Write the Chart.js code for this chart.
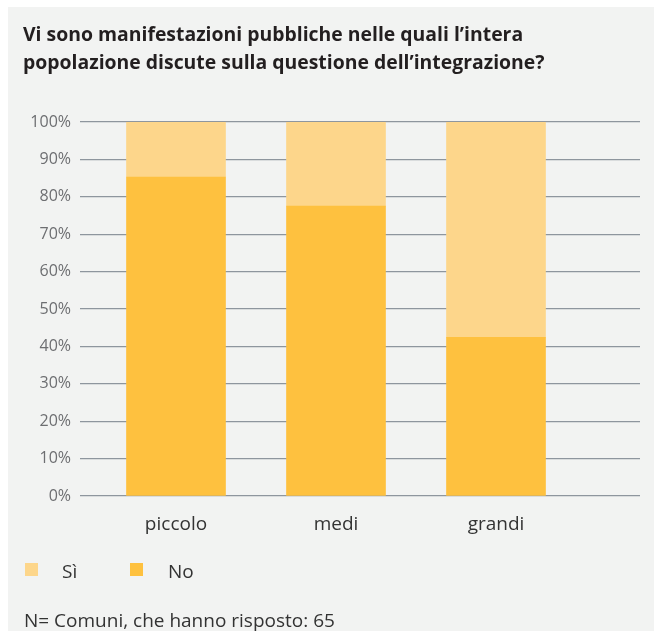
<!DOCTYPE html>
<html lang="it">
<head>
<meta charset="utf-8">
<title>Manifestazioni pubbliche sull'integrazione</title>
<script src="https://cdn.jsdelivr.net/npm/chart.js@4/dist/chart.umd.min.js"></script>
<style>
  html, body { margin: 0; padding: 0; background: #fff; }
  body { width: 654px; height: 631px; position: relative; overflow: hidden; font-family: "Open Sans", "Noto Sans", sans-serif; }
  #panel { position: absolute; left: 8px; top: 7px; right: 0; bottom: 0; background: #f2f3f2; }
  #chart { position: absolute; left: 0; top: 0; }
  #title { position: absolute; left: 23px; top: 20px; margin: 0; font-size: 19.4px; line-height: 27.5px; font-weight: bold; color: #231f20; white-space: nowrap; }
  .legend-item { position: absolute; top: 562px; font-size: 19px; line-height: 19px; color: #333; }
  .legend-box { position: absolute; width: 13px; height: 13px; top: 563px; }
  #note { position: absolute; left: 24px; top: 611px; font-size: 19px; line-height: 19px; color: #333; margin: 0; white-space: nowrap; }
</style>
</head>
<body>
<div id="panel"></div>
<canvas id="chart" width="654" height="631"></canvas>
<h1 id="title">Vi sono manifestazioni pubbliche nelle quali l’intera<br>popolazione discute sulla questione dell’integrazione?</h1>
<div id="legend"></div>
<p id="note">N= Comuni, che hanno risposto: 65</p>

<script>
const categories = ["piccolo", "medi", "grandi"];
const noValues = [85.3, 77.5, 42.4];
const siValues = [14.7, 22.5, 57.6];
const yTicks = [0, 10, 20, 30, 40, 50, 60, 70, 80, 90, 100];

const colorSi = "#fdd68b";
const colorNo = "#fec13f";

// legend: Sì first, then No
const legend = document.getElementById("legend");
[["Sì", colorSi, 25, 62], ["No", colorNo, 130, 168]].forEach(([label, color, boxX, textX]) => {
  const box = document.createElement("div");
  box.className = "legend-box";
  box.style.left = boxX + "px";
  box.style.background = color;
  legend.appendChild(box);
  const txt = document.createElement("div");
  txt.className = "legend-item";
  txt.style.left = textX + "px";
  txt.textContent = label;
  legend.appendChild(txt);
});

const toPoints = (values) => values.map((v, i) => ({ x: i + 1, y: v }));

new Chart(document.getElementById("chart").getContext("2d"), {
  type: "bar",
  data: {
    datasets: [
      { label: "No", data: toPoints(noValues), backgroundColor: colorNo },
      { label: "Sì", data: toPoints(siValues), backgroundColor: colorSi }
    ]
  },
  options: {
    responsive: false,
    animation: false,
    layout: { padding: { top: 122, right: 14, left: 0, bottom: 0 } },
    barThickness: 99,
    plugins: {
      legend: { display: false },
      tooltip: { enabled: false }
    },
    scales: {
      x: {
        type: "linear",
        stacked: true,
        offset: false,
        min: 0.4,
        max: 3.9,
        grid: { display: false },
        border: { display: false },
        afterBuildTicks: (scale) => {
          scale.ticks = categories.map((c, i) => ({ value: i + 1 }));
        },
        afterFit: (scale) => { scale.height = 135; },
        ticks: {
          padding: 9,
          autoSkip: false,
          maxRotation: 0,
          color: "#333",
          font: { family: "Open Sans", size: 19 },
          callback: (v) => categories[v - 1] || ""
        }
      },
      y: {
        stacked: true,
        min: 0,
        max: 100,
        afterBuildTicks: (scale) => {
          scale.ticks = yTicks.map((v) => ({ value: v }));
        },
        afterFit: (scale) => { scale.width = 80; },
        grid: { color: "#8e969e", lineWidth: 1.3, drawTicks: false },
        border: { display: false },
        ticks: {
          padding: 9,
          color: "#6d6e71",
          font: { family: "Open Sans", size: 16 },
          callback: (v) => v + "%"
        }
      }
    }
  }
});
</script>
</body>
</html>
